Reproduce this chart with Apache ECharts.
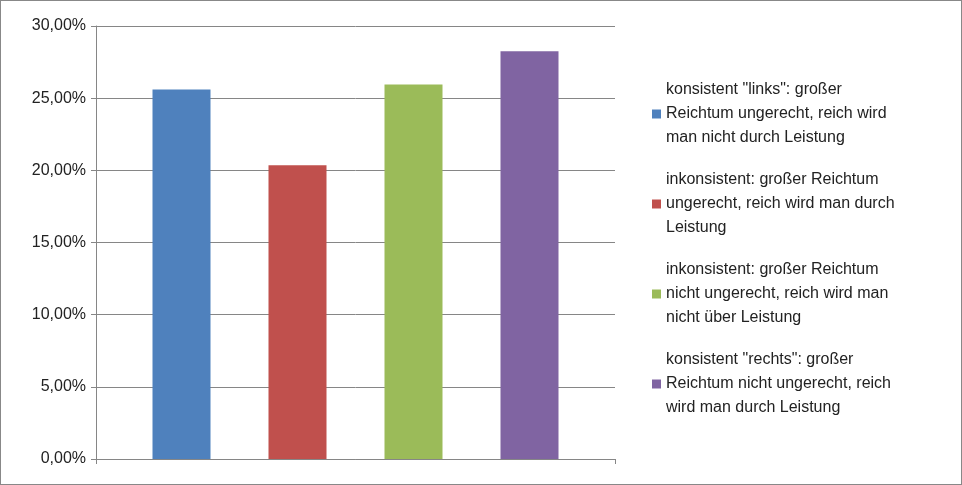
<!DOCTYPE html>
<html><head><meta charset="utf-8">
<script src="https://cdn.jsdelivr.net/npm/echarts@6/dist/echarts.min.js"></script>
<style>html,body{margin:0;padding:0;background:#fff}#c{width:960px;height:483px;border:1px solid #888}</style>
</head><body><div id="c"></div>
<script>
const seriesNames = ['konsistent "links": großer\nReichtum ungerecht, reich wird\nman nicht durch Leistung',
 'inkonsistent: großer Reichtum\nungerecht, reich wird man durch\nLeistung',
 'inkonsistent: großer Reichtum\nnicht ungerecht, reich wird man\nnicht über Leistung',
 'konsistent "rechts": großer\nReichtum nicht ungerecht, reich\nwird man durch Leistung'];
const values = [25.6, 20.35, 25.95, 28.25];
const colors = ['#4F81BD','#C0504D','#9BBB59','#8064A2'];
const chart = echarts.init(document.getElementById('c'));
chart.setOption({
 animation:false,
 textStyle:{fontFamily:'Liberation Sans'},
 grid:{left:95,right:346,top:25,bottom:25},
 legend:{orient:'vertical',left:646,top:72,itemWidth:9,itemHeight:9,itemGap:18,icon:'rect',
   textStyle:{fontSize:16,lineHeight:24,color:'#222'}},
 xAxis:{type:'category',data:[''],axisLine:{lineStyle:{color:'#868686'}},axisTick:{show:true,lineStyle:{color:'#868686'},length:5}},
 yAxis:{type:'value',min:0,max:30,interval:5,
   axisLabel:{formatter:v=>v.toFixed(2).replace('.',',')+'%',fontSize:16,color:'#222',margin:10},
   axisLine:{show:true,lineStyle:{color:'#868686'}},axisTick:{show:true,length:5,lineStyle:{color:'#868686'}},
   splitLine:{lineStyle:{color:'#868686'}}},
 series: seriesNames.map((n,i)=>({name:n,type:'bar',data:[values[i]],barWidth:58,barGap:'100%',itemStyle:{color:colors[i]}}))
});
</script></body></html>
